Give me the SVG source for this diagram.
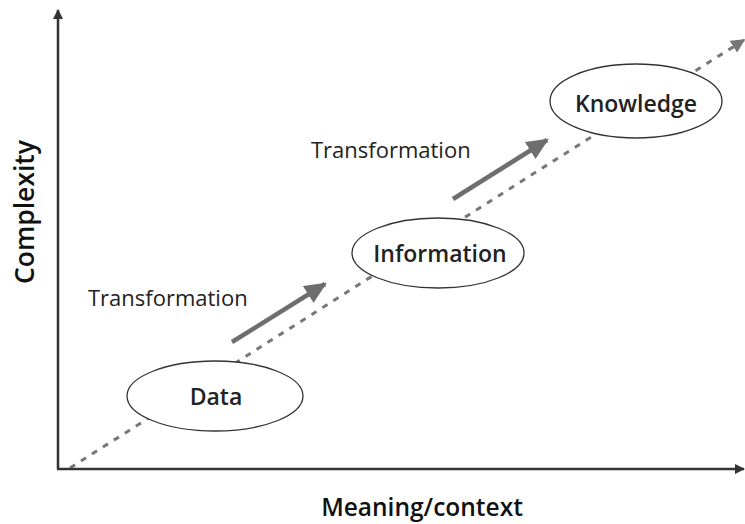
<svg xmlns="http://www.w3.org/2000/svg" width="745" height="524" viewBox="0 0 745 524">
<defs>
<style>
.axis{stroke:#333;stroke-width:2.5;fill:none}
.dash{stroke:#777;stroke-width:3;stroke-dasharray:6 7;fill:none}
.tarrow{stroke:#6e6e6e;stroke-width:4.5;fill:none}
.node{fill:#fff;stroke:#333;stroke-width:1.3}
.lbl{font-family:"Open Sans","Noto Sans",sans-serif;font-weight:600;font-size:23px;fill:#222;text-anchor:middle;dominant-baseline:central}
.tr{font-family:"Open Sans","Noto Sans",sans-serif;font-size:22px;fill:#222}
.ax{font-family:"Open Sans","Noto Sans",sans-serif;font-weight:600;font-size:24.5px;fill:#111;text-anchor:middle}
</style>
<marker id="ah" viewBox="0 0 10 10" refX="9" refY="5" markerWidth="10" markerHeight="10" markerUnits="userSpaceOnUse" orient="auto"><path d="M0,0 L10,5 L0,10 Z" fill="#333"/></marker>
<marker id="ahd" viewBox="0 0 10 10" refX="9" refY="5" markerWidth="14" markerHeight="14" markerUnits="userSpaceOnUse" orient="auto"><path d="M0,0 L10,5 L0,10 Z" fill="#777"/></marker>
<marker id="aht" viewBox="0 0 10 10" refX="9" refY="5" markerWidth="22" markerHeight="20" markerUnits="userSpaceOnUse" orient="auto" preserveAspectRatio="none"><path d="M0,0 L10,5 L0,10 Z" fill="#6e6e6e"/></marker>
</defs>
<g id="connectors">
<line class="dash" x1="70" y1="468" x2="744" y2="40" marker-end="url(#ahd)"/>
<line class="tarrow" x1="232" y1="342" x2="325" y2="284" marker-end="url(#aht)"/>
<line class="tarrow" x1="453" y1="199" x2="547" y2="140" marker-end="url(#aht)"/>
</g>
<g id="axes">
<line class="axis" x1="58" y1="469" x2="58" y2="10" marker-end="url(#ah)"/>
<line class="axis" x1="57" y1="469" x2="744" y2="469" marker-end="url(#ah)"/>
</g>
<g id="data"><ellipse class="node" cx="215" cy="396" rx="88" ry="35"/><text class="lbl" x="216" y="396">Data</text></g>
<g id="information"><ellipse class="node" cx="438" cy="253" rx="86" ry="35"/><text class="lbl" x="440" y="253">Information</text></g>
<g id="knowledge"><ellipse class="node" cx="636" cy="101" rx="86" ry="37"/><text class="lbl" x="636" y="103">Knowledge</text></g>
<g id="labels">
<text class="tr" x="88" y="306">Transformation</text>
<text class="tr" x="311" y="158">Transformation</text>
<text class="ax" x="422" y="516">Meaning/context</text>
<text class="ax" style="font-size:26.5px" transform="translate(34,212) rotate(-90)">Complexity</text>
</g>
</svg>
